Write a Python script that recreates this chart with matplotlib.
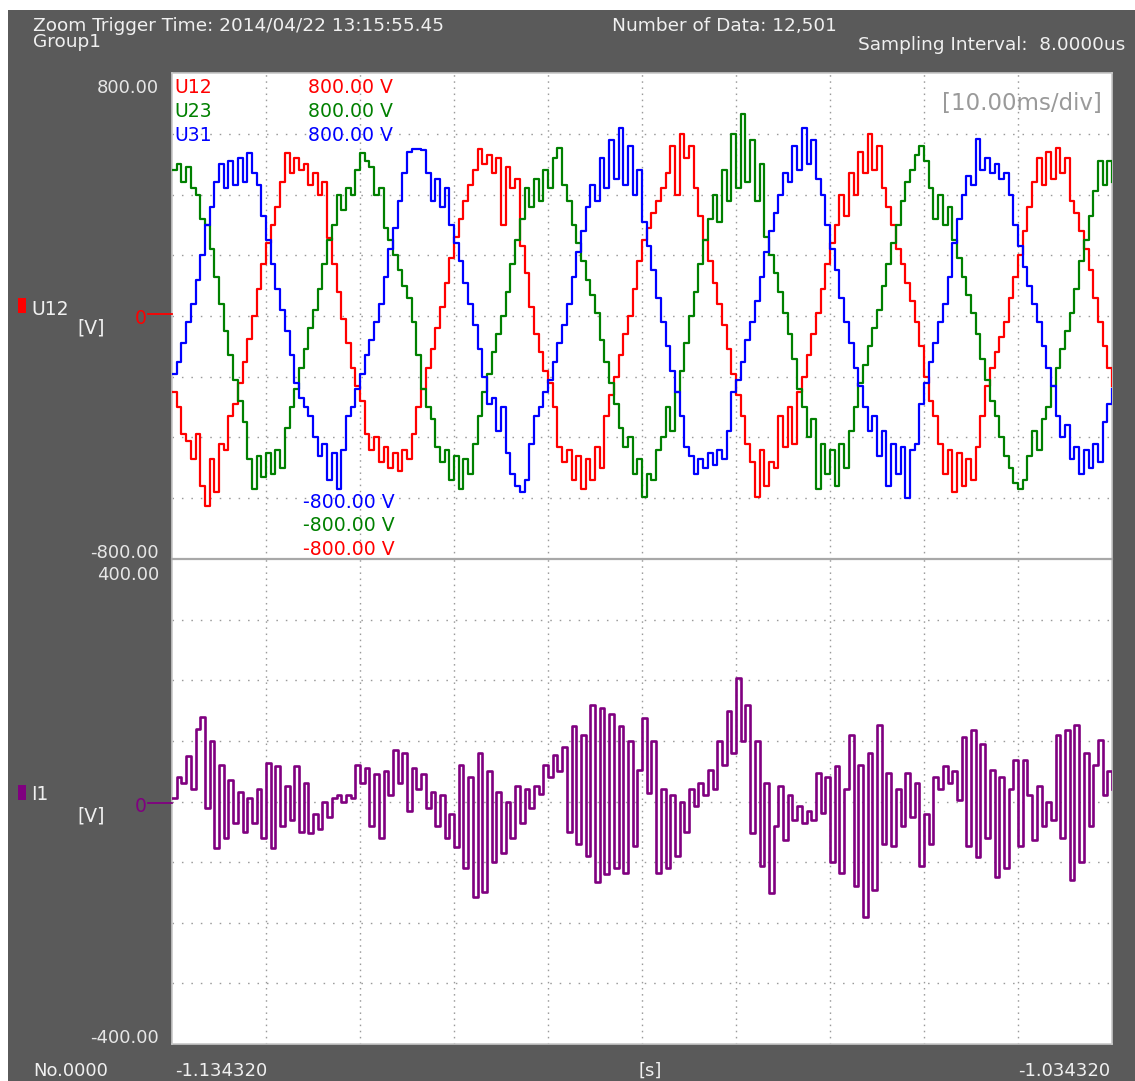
import numpy as np
import matplotlib
matplotlib.use("Agg")
import matplotlib.pyplot as plt
from matplotlib.patches import Rectangle
from matplotlib.lines import Line2D

plt.rcParams['font.family'] = ['DejaVu Sans']
plt.rcParams['lines.scale_dashes'] = False

SAMPLE_MS = 0.5          # one value every 0.5 ms, 0 .. 100 ms window
DIV_MS = 10.0
T_START_LABEL = "-1.134320"
T_END_LABEL = "-1.034320"

U12 = [-250, -300, -390, -410, -470, -390, -560, -625, -470, -580,
       -420, -440, -330, -290, -220, -150, -75, 0, 90, 170,
       240, 300, 360, 440, 536, 470, 520, 480, 500, 430,
       470, 400, 440, 257, 170, 80, -10, -90, -170, -230,
       -280, -390, -440, -400, -480, -430, -500, -450, -510, -440,
       -470, -390, -300, -240, -170, -110, -40, 30, 110, 190,
       260, 320, 380, 430, 480, 549, 500, 530, 470, 520,
       300, 490, 420, 450, 230, 140, 30, -60, -120, -180,
       -220, -300, -430, -480, -440, -540, -460, -569, -470, -540,
       -430, -500, -330, -260, -200, -130, -60, 0, 90, 180,
       250, 290, 340, 380, 420, 470, 560, 400, 600, 520,
       560, 420, 330, 250, 180, 110, 40, -30, -110, -190,
       -260, -330, -420, -480, -597, -440, -560, -480, -500, -330,
       -430, -300, -420, -250, -200, -130, -60, 10, 90, 170,
       240, 300, 400, 330, 470, 400, 540, 470, 598, 480,
       560, 420, 360, 300, 220, 170, 110, 50, -20, -100,
       -200, -280, -330, -420, -520, -440, -580, -450, -560, -470,
       -540, -430, -330, -230, -170, -120, -70, -20, 60, 130,
       200, 280, 360, 440, 520, 430, 540, 450, 553, 470,
       520, 380, 340, 280, 220, 150, 60, -20, -100, -170,
       -230]

U23 = [480, 500, 440, 490, 420, 400, 320, 300, 220, 130,
       40, -50, -130, -210, -280, -350, -470, -569, -460, -530,
       -450, -520, -440, -500, -370, -300, -240, -170, -110, -40,
       20, 90, 170, 250, 300, 400, 350, 420, 400, 480,
       536, 510, 490, 400, 420, 290, 250, 200, 150, 100,
       60, -20, -130, -240, -300, -340, -430, -480, -440, -540,
       -460, -569, -470, -520, -420, -330, -250, -190, -120, -60,
       0, 80, 170, 250, 320, 420, 360, 450, 380, 480,
       420, 520, 553, 430, 380, 300, 240, 180, 120, 70,
       10, -80, -150, -220, -290, -370, -430, -400, -520, -470,
       -595, -520, -540, -440, -400, -300, -380, -250, -180, -90,
       0, 80, 170, 250, 320, 400, 310, 480, 380, 600,
       420, 664, 440, 580, 380, 500, 260, 200, 140, 80,
       10, -60, -140, -240, -300, -400, -340, -569, -420, -520,
       -440, -560, -420, -500, -380, -300, -220, -160, -100, -40,
       20, 100, 170, 240, 300, 380, 440, 480, 530, 559,
       510, 420, 320, 400, 300, 360, 250, 190, 130, 70,
       10, -60, -140, -210, -280, -330, -400, -460, -500, -550,
       -569, -540, -460, -380, -440, -340, -300, -230, -170, -110,
       -50, 10, 90, 180, 250, 330, 410, 510, 430, 510,
       440]

U31 = [-190, -150, -90, -20, 40, 120, 200, 300, 360, 440,
       500, 420, 510, 430, 520, 440, 536, 470, 430, 330,
       250, 170, 90, 20, -50, -130, -220, -270, -300, -330,
       -400, -460, -420, -540, -450, -569, -440, -330, -300, -240,
       -190, -130, -80, -20, 40, 130, 220, 290, 380, 470,
       540, 550, 550, 545, 470, 380, 450, 360, 420, 300,
       240, 180, 110, 40, -30, -110, -200, -290, -270, -380,
       -300, -450, -520, -560, -580, -540, -420, -330, -300, -250,
       -210, -150, -90, -30, 40, 130, 210, 280, 360, 430,
       380, 520, 420, 580, 450, 619, 430, 560, 400, 480,
       310, 230, 150, 60, -20, -100, -180, -250, -330, -430,
       -460, -520, -470, -500, -450, -490, -440, -470, -380, -250,
       -210, -150, -80, -20, 50, 130, 210, 280, 340, 400,
       470, 440, 560, 480, 619, 500, 580, 450, 400, 300,
       220, 150, 60, -20, -90, -170, -230, -300, -380, -330,
       -460, -380, -560, -420, -520, -430, -600, -440, -420, -290,
       -220, -150, -90, -20, 40, 130, 240, 320, 400, 460,
       430, 582, 480, 520, 470, 500, 450, 470, 400, 300,
       230, 160, 100, 40, -20, -100, -170, -230, -330, -400,
       -360, -470, -430, -520, -440, -500, -420, -480, -350, -290,
       -240]

I1 = [5, 40, 30, 75, 20, 120, 140, -10, 100, -77,
      60, -60, 35, -35, 15, -50, 5, -35, 20, -60,
      63, -77, 58, -40, 25, -30, 58, -50, 30, -52,
      -20, -45, 0, -25, 5, 10, 0, 10, 5, 60,
      30, 55, -40, 45, -60, 50, 10, 85, 30, 80,
      -15, 55, 20, 45, -10, 15, -40, 10, -60, -20,
      -75, 60, -110, 40, -157, 80, -150, 50, -100, 15,
      -85, 0, -60, 25, -35, 20, -10, 25, 13, 60,
      40, 77, 50, 90, -50, 125, -70, 110, -90, 160,
      -132, 155, -120, 145, -110, 125, -118, 100, -74, 52,
      137, 14, 100, -118, 20, -110, 10, -90, 0, -50,
      20, -8, 30, 10, 52, 20, 100, 60, 150, 80,
      204, 100, 160, -52, 100, -107, 30, -151, -40, 25,
      -63, 10, -30, -8, -35, -15, -30, 47, -19, 40,
      -100, 58, -118, 20, 110, -140, 60, -190, 80, -146,
      127, -70, 47, -74, 20, -40, 47, -25, 30, -107,
      -20, -70, 40, 20, 58, 30, 50, 3, 107, -74,
      118, -91, 95, -60, 52, -124, 40, -110, 20, 69,
      -74, 69, 10, -63, 25, -40, 0, -30, 110, -60,
      118, -129, 127, -100, 80, -41, 60, 102, 10, 50,
      20]

V_RANGE = 800.0
I_RANGE = 400.0
V_GRID = [-600, -400, -200, 0, 200, 400, 600]
I_GRID = [-300, -200, -100, 0, 100, 200, 300]

# ---------------- figure ----------------
W, H, DPI = 1135, 1081, 100
fig = plt.figure(figsize=(W / DPI, H / DPI), dpi=DPI, facecolor='white')


def fx(px):
    return px / W


def fy(py):
    return 1 - py / H


BG = '#5a5a5a'
TXT = '#f0f0f0'
fig.patches.append(Rectangle((fx(8), 0), 1 - fx(8), fy(10), transform=fig.transFigure,
                             facecolor=BG, edgecolor='none', zorder=-5))

L, R, TOP, MID, BOT = 172, 1112, 73, 559, 1044
ax1 = fig.add_axes([fx(L), fy(MID), (R - L) / W, (MID - TOP) / H])
ax2 = fig.add_axes([fx(L), fy(BOT), (R - L) / W, (BOT - MID) / H])

n = len(U12)
assert len(U23) == n and len(U31) == n and len(I1) == n, (len(U12), len(U23), len(U31), len(I1))
t = np.arange(n) * SAMPLE_MS
t_end = (n - 1) * SAMPLE_MS

for ax, lim, grid in ((ax1, V_RANGE, V_GRID), (ax2, I_RANGE, I_GRID)):
    ax.set_zorder(1)
    ax.set_facecolor('white')
    ax.set_xlim(0, t_end)
    ax.set_ylim(-lim, lim)
    ax.set_xticks(np.arange(DIV_MS, t_end, DIV_MS))
    ax.set_yticks(grid)
    ax.tick_params(length=0, labelleft=False, labelbottom=False)
    ax.xaxis.grid(True, color='#9a9a9a', linewidth=1.0, linestyle=(0, (1.1, 3.3)))
    ax.yaxis.grid(True, color='#9a9a9a', linewidth=1.0, linestyle=(0, (1.1, 5.7)))
    ax.set_axisbelow(True)
    for s in ax.spines.values():
        s.set_color('#c8c8c8')
        s.set_linewidth(1.2)

LW = 1.6
ax1.plot(t, U12, color='#ff0000', lw=LW, drawstyle='steps-post', zorder=3)
ax1.plot(t, U23, color='#008000', lw=LW, drawstyle='steps-post', zorder=3)
ax1.plot(t, U31, color='#0000ff', lw=LW, drawstyle='steps-post', zorder=3)
ax2.plot(t, I1, color='#800080', lw=1.9, drawstyle='steps-post', zorder=3)

# divider between panels
div = Line2D([fx(L), fx(R)], [fy(MID), fy(MID)], color='#a8a8a8', lw=1.6, zorder=5)
fig.add_artist(div)


def ftext(x, y, s, ha='left', color=TXT, size=13.5, **kw):
    fig.text(fx(x), fy(y), s, ha=ha, va='baseline', color=color, fontsize=size,
             zorder=6, **kw)


# header
ftext(33, 31, "Zoom Trigger Time: 2014/04/22 13:15:55.45", size=13.3)
ftext(33, 47, "Group1", size=13.3)
ftext(612, 31, "Number of Data: 12,501", size=13.3)
ftext(1125, 50, "Sampling Interval:  8.0000us", ha='right', size=13.3)

# axis limit labels
ftext(159, 93, "800.00", ha='right', color='#e6e6e6', size=13)
ftext(159, 558, "-800.00", ha='right', color='#e6e6e6', size=13)
ftext(159, 580, "400.00", ha='right', color='#e6e6e6', size=13)
ftext(159, 1043, "-400.00", ha='right', color='#e6e6e6', size=13)

# bottom time row
ftext(33, 1076, "No.0000", size=13)
ftext(175, 1076, T_START_LABEL, size=13)
ftext(650, 1076, "[s]", ha='center', size=13)
ftext(1110, 1076, T_END_LABEL, ha='right', size=13)

# channel labels on the left
for (y_sq, y_name, y_unit, y_zero, y_line, name, col) in (
        (298, 315, 334, 324, 314, "U12", '#ff0000'),
        (785, 800, 821, 812, 803, "I1", '#800080')):
    fig.patches.append(Rectangle((fx(18), fy(y_sq + 15)), 8 / W, 15 / H,
                                 transform=fig.transFigure, facecolor=col,
                                 edgecolor='none', zorder=2))
    ftext(31, y_name, name, size=13.5)
    ftext(77, y_unit, "[V]", size=13.5)
    ftext(147, y_zero, "0", ha='right', color=col, size=13.5)
    fig.add_artist(Line2D([fx(148), fx(L)], [fy(y_line), fy(y_line)], color=col, lw=1.3,
                          zorder=5))

# in-plot scale legend
legend_rows = (("U12", '#ff0000'), ("U23", '#008000'), ("U31", '#0000ff'))
for i, (name, col) in enumerate(legend_rows):
    yb = 93 + 24 * i
    ftext(174, yb, name, color=col, size=13.6)
    ftext(393, yb, "800.00 V", ha='right', color=col, size=13.6)
for (yb, col) in ((508, '#0000ff'), (531, '#008000'), (555, '#ff0000')):
    ftext(395, yb, "-800.00 V", ha='right', color=col, size=13.6)

ftext(1102, 110, "[10.00ms/div]", ha='right', color='#9a9a9a', size=16.5)

fig.savefig("out.png", dpi=DPI, facecolor=fig.get_facecolor())
